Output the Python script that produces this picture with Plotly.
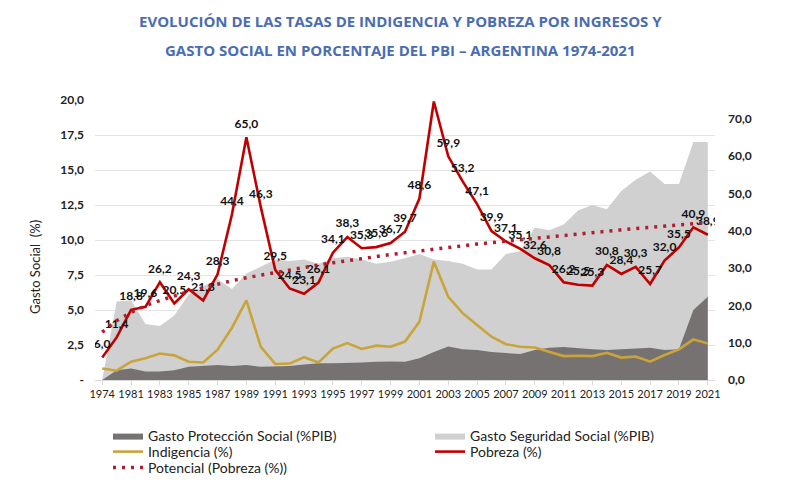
import plotly.graph_objects as go

years = ["1974", "1980", "1981", "1982", "1983", "1984", "1985", "1986", "1987", "1988",
         "1989", "1990", "1991", "1992", "1993", "1994", "1995", "1996", "1997", "1998",
         "1999", "2000", "2001", "2002", "2003", "2004", "2005", "2006", "2007", "2008",
         "2009", "2010", "2011", "2012", "2013", "2014", "2015", "2016", "2017", "2018",
         "2019", "2020", "2021"]

tick_years = ["1974", "1981", "1983", "1985", "1987", "1989", "1991", "1993", "1995",
              "1997", "1999", "2001", "2003", "2005", "2007", "2009", "2011", "2013",
              "2015", "2017", "2019", "2021"]

gasto_proteccion = [0.0, 0.7, 0.83, 0.6, 0.6, 0.7, 0.95, 1.0, 1.07, 1.0,
                    1.07, 0.95, 0.95, 1.0, 1.1, 1.2, 1.2, 1.2, 1.25, 1.3,
                    1.33, 1.3, 1.55, 2.0, 2.4, 2.2, 2.15, 2.0, 1.9, 1.85,
                    2.15, 2.3, 2.35, 2.26, 2.2, 2.15, 2.2, 2.25, 2.3, 2.15,
                    2.2, 5.0, 5.95]

gasto_seguridad = [0.0, 5.6, 5.7, 4.0, 3.85, 4.6, 6.1, 6.7, 7.2, 6.5,
                   7.6, 8.1, 8.6, 8.5, 8.6, 8.3, 8.7, 8.8, 8.6, 8.3,
                   8.45, 8.7, 9.0, 8.6, 8.5, 8.3, 7.9, 7.9, 9.0, 9.2,
                   10.9, 10.7, 11.1, 12.1, 12.5, 12.2, 13.5, 14.3, 14.9, 14.0,
                   14.0, 17.0, 17.0]

indigencia = [3.1, 2.5, 4.9, 5.8, 7.1, 6.6, 4.9, 4.7, 8.1, 14.0,
              21.3, 8.9, 4.3, 4.4, 6.1, 4.7, 8.4, 9.9, 8.3, 9.2,
              8.9, 10.3, 15.6, 31.7, 22.3, 17.9, 14.7, 11.6, 9.6, 8.9,
              8.7, 7.6, 6.4, 6.5, 6.4, 7.3, 6.0, 6.3, 4.9, 6.7,
              8.2, 10.9, 9.8]

pobreza = [6.0, 11.4, 18.8, 19.6, 26.2, 20.5, 24.3, 21.3, 28.3, 44.4,
           65.0, 46.3, 29.5, 24.5, 23.1, 26.1, 34.1, 38.3, 35.3, 35.6,
           36.7, 39.7, 48.6, 74.6, 59.9, 53.2, 47.1, 39.9, 37.1, 35.1,
           32.6, 30.8, 26.2, 25.5, 25.3, 30.8, 28.4, 30.3, 25.7, 32.0,
           35.5, 40.9, 38.9]

potencial = [12.8, 15.9, 18.1, 19.9, 21.3, 22.6, 23.7, 24.7, 25.7, 26.6,
             27.4, 28.1, 28.9, 29.5, 30.2, 30.8, 31.4, 32.0, 32.6, 33.1,
             33.6, 34.1, 34.6, 35.1, 35.5, 36.0, 36.4, 36.8, 37.2, 37.6,
             38.0, 38.4, 38.8, 39.1, 39.5, 39.9, 40.2, 40.6, 40.9, 41.2,
             41.5, 41.9, 42.2]

left_ticks = [0, 2.5, 5, 7.5, 10, 12.5, 15, 17.5, 20]
left_ticktext = ["-", "2,5", "5,0", "7,5", "10,0", "12,5", "15,0", "17,5", "20,0"]
right_ticks = [0, 10, 20, 30, 40, 50, 60, 70]
right_ticktext = ["0,0", "10,0", "20,0", "30,0", "40,0", "50,0", "60,0", "70,0"]

pobreza_text = [f"{v:.1f}".replace(".", ",") for v in pobreza]

FONT = "Lato"
# the page body adds an 8px offset; figure coords = screen coords - 8
OFF = 8
PL, PR, PT, PB = 95 - OFF, 715 - OFF, 100 - OFF, 380 - OFF
PW, PH = PR - PL, PB - PT

fig = go.Figure()

fig.add_trace(go.Scatter(
    x=years, y=gasto_seguridad, name="Gasto Seguridad Social (%PIB)",
    mode="lines", line=dict(width=0, color="#D0D0D0"), fill="tozeroy",
    fillcolor="#D0D0D0", legend="legend2", yaxis="y"))
fig.add_trace(go.Scatter(
    x=years, y=gasto_proteccion, name="Gasto Protección Social (%PIB)",
    mode="lines", line=dict(width=0, color="#767272"), fill="tozeroy",
    fillcolor="#767272", legend="legend", yaxis="y"))
fig.add_trace(go.Scatter(
    x=years, y=indigencia, name="Indigencia (%)", mode="lines",
    line=dict(width=2.6, color="#C9A43A"), legend="legend3", yaxis="y2"))
fig.add_trace(go.Scatter(
    x=years, y=pobreza, name="Pobreza (%)", mode="lines+markers+text",
    line=dict(width=2.6, color="#C00000"),
    marker=dict(size=9, color="rgba(0,0,0,0)", line=dict(width=0)),
    text=pobreza_text, textposition="top center",
    textfont=dict(family=FONT, size=12, color="#111111", weight="bold"),
    legend="legend4", yaxis="y2"))
fig.add_trace(go.Scatter(
    x=years, y=potencial, name="Potencial (Pobreza (%))", mode="lines",
    line=dict(width=3.5, color="#B01E2E", dash="3px,6px"),
    legend="legend5", yaxis="y2"))


def leg(px, py):
    return dict(x=(px - OFF) / 800.0, y=1 - (py - OFF) / 488.0,
                xref="container", yref="container",
                xanchor="left", yanchor="middle", orientation="v", itemwidth=30,
                font=dict(family=FONT, size=14, color="#222222"),
                bgcolor="rgba(0,0,0,0)", borderwidth=0)


def px_x(sx):
    return (sx - OFF - PL) / PW


def px_y(sy):
    return (PB - (sy - OFF)) / PH


fig.update_layout(
    width=800, height=488,
    margin=dict(l=PL, r=800 - PR, t=PT, b=488 - PB, autoexpand=False),
    paper_bgcolor="white", plot_bgcolor="white",
    showlegend=True,
    legend=leg(108, 436),
    legend2=leg(430, 436),
    legend3=leg(108, 452),
    legend4=leg(430, 452),
    legend5=leg(108, 468),
    xaxis=dict(type="category", categoryorder="array", categoryarray=years,
               range=[-0.5, len(years) - 0.5],
               tickmode="array", tickvals=tick_years, ticktext=tick_years,
               tickfont=dict(family=FONT, size=11, color="#222222"),
               showgrid=False, showline=True, linecolor="#D9D9D9",
               ticks="outside", ticklen=4, tickcolor="#D9D9D9"),
    yaxis=dict(range=[0, 20], tickmode="array", tickvals=left_ticks,
               ticktext=left_ticktext, showgrid=True, gridcolor="#E3E3E3",
               gridwidth=1, zeroline=False, showline=False,
               tickfont=dict(family=FONT, size=12, color="#222222", weight="bold"),
               ticklabelstandoff=10),
    yaxis2=dict(range=[0, 75], overlaying="y", side="right", tickmode="array",
                tickvals=right_ticks, ticktext=right_ticktext, showgrid=False,
                zeroline=False, showline=False,
                tickfont=dict(family=FONT, size=12, color="#222222", weight="bold"),
                ticklabelstandoff=12),
    annotations=[
        dict(text="EVOLUCIÓN DE LAS TASAS DE INDIGENCIA Y POBREZA POR INGRESOS Y",
             xref="paper", yref="paper", x=px_x(400), y=px_y(21),
             xanchor="center", yanchor="middle", showarrow=False,
             font=dict(family="Open Sans", size=15, color="#4A6DB2", weight="bold")),
        dict(text="GASTO SOCIAL EN PORCENTAJE DEL PBI – ARGENTINA 1974-2021",
             xref="paper", yref="paper", x=px_x(400), y=px_y(50),
             xanchor="center", yanchor="middle", showarrow=False,
             font=dict(family="Open Sans", size=15, color="#4A6DB2", weight="bold")),
        dict(text="Gasto Social  (%)", xref="paper", yref="paper",
             x=px_x(35), y=px_y(267), xanchor="center", yanchor="middle",
             textangle=-90, showarrow=False,
             font=dict(family=FONT, size=13, color="#222222")),
    ],
)

fig.write_html("out.html")
